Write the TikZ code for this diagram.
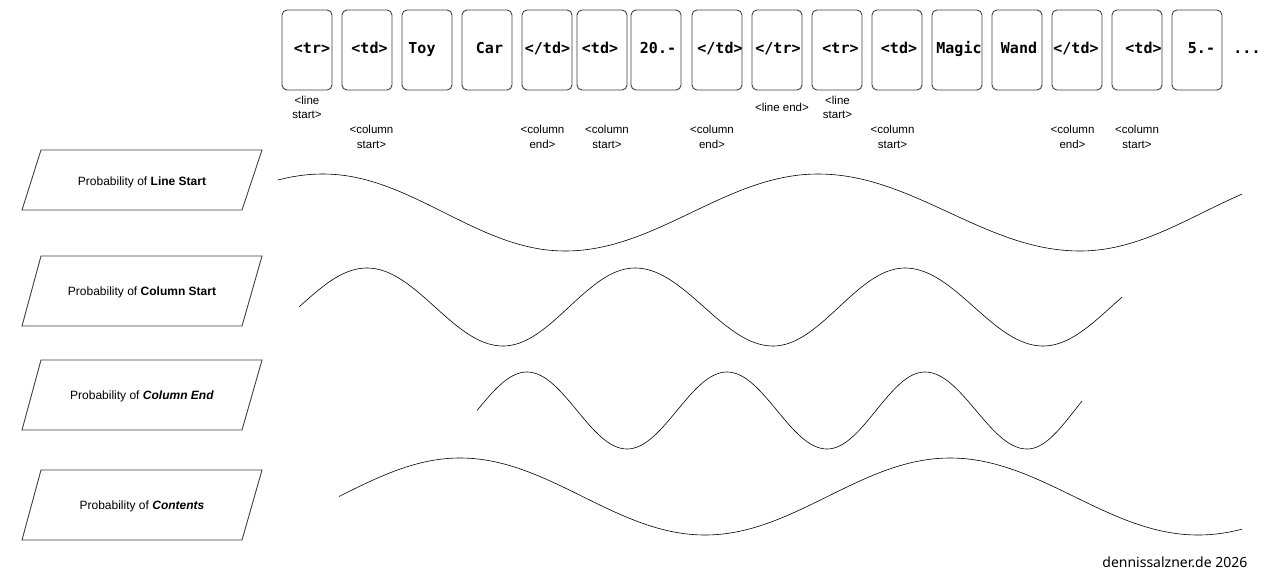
\documentclass[tikz,border=0pt]{standalone}
\usepackage{fontspec}
\setmainfont{Liberation Sans}
\newfontfamily\monob{DejaVu Sans Mono}
\newfontfamily\footfont{Noto Sans}
\newcommand\shtxt[2]{\hspace*{#1pt}#2\hspace*{-#1pt}}
\newcommand\seg[6]{plot[domain=#1:#2, samples=40, smooth] (\x,{#3+#4*cos((\x-#5)/#6*180)})}
\newcommand\segc[6]{-- plot[domain=#1:#2, samples=40, smooth] (\x,{#3+#4*cos((\x-#5)/#6*180)})}
\tikzset{
  tok/.style={draw=black!75, line width=0.9pt, rounded corners=5pt,
    minimum width=50pt, minimum height=80pt, inner sep=0pt,
    font=\monob\bfseries\fontsize{15}{18}\selectfont,
    text height=10.6pt, text depth=4pt},
  dotsnode/.style={inner sep=0pt, font=\monob\bfseries\fontsize{15}{18}\selectfont,
    text height=10.6pt, text depth=4pt},
  lbl/.style={font=\fontsize{11.5}{14.5}\selectfont, align=center, inner sep=0pt},
  para/.style={draw=black!75, line width=0.9pt},
  ptext/.style={font=\fontsize{12}{14}\selectfont, inner sep=0pt},
  wave/.style={draw=black, line width=0.6pt},
}
\begin{document}
\begin{tikzpicture}[x=1pt,y=-1pt]
\useasboundingbox[fill=white] (0,0) rectangle (1262,579);
% token boxes
\node[tok] (t1)  at (307,50)  {\shtxt{5}{<tr>}};
\node[tok] (t2)  at (367,50)  {\shtxt{2.5}{<td>}};
\node[tok] (t3)  at (427,50)  {\shtxt{-5}{Toy}};
\node[tok] (t4)  at (487,50)  {\shtxt{2.5}{Car}};
\node[tok] (t5)  at (547,50)  {\shtxt{0.5}{</td>}};
\node[tok] (t6)  at (602,50)  {\shtxt{-2}{<td>}};
\node[tok] (t7)  at (656,50)  {\shtxt{2}{20.-}};
\node[tok] (t8)  at (717,50)  {\shtxt{3}{</td>}};
\node[tok] (t9)  at (777,50)  {\shtxt{1}{</tr>}};
\node[tok] (t10) at (837,50)  {\shtxt{3.5}{<tr>}};
\node[tok] (t11) at (897,50)  {\shtxt{2}{<td>}};
\node[tok] (t12) at (957,50)  {\shtxt{2}{Magic}};
\node[tok] (t13) at (1017,50) {\shtxt{2}{Wand}};
\node[tok] (t14) at (1077,50) {\shtxt{-1}{</td>}};
\node[tok] (t15) at (1137,50) {\shtxt{6.5}{<td>}};
\node[tok] (t16) at (1197,50) {\shtxt{4.5}{5.-}};
\node[dotsnode] (dots) at (1247,50) {...};
% labels
\node[lbl] (l1)  at (307,107.5)   {<line\\start>};
\node[lbl] (l2)  at (371.5,137)   {<column\\start>};
\node[lbl] (l3)  at (542.5,137)   {<column\\end>};
\node[lbl] (l4)  at (607,137)     {<column\\start>};
\node[lbl] (l5)  at (712,137)     {<column\\end>};
\node[lbl] (l6)  at (782,107.5)   {<line end>};
\node[lbl] (l7)  at (837.5,107.5) {<line\\start>};
\node[lbl] (l8)  at (892.5,137)   {<column\\start>};
\node[lbl] (l9)  at (1072.5,137)  {<column\\end>};
\node[lbl] (l10) at (1137,137)    {<column\\start>};
% parallelograms
\draw[para] (41,150) -- (262,150) -- (242,210) -- (22,210) -- cycle;
\draw[para] (41,256) -- (262,256) -- (242,326) -- (22,326) -- cycle;
\draw[para] (41,360) -- (262,360) -- (242,430) -- (22,430) -- cycle;
\draw[para] (41,470) -- (262,470) -- (242,540) -- (22,540) -- cycle;
\node[ptext] (p1) at (142,182)   {Probability of \textbf{Line Start}};
\node[ptext] (p2) at (142,292.5) {Probability of \textbf{Column Start}};
\node[ptext] (p3) at (142,396.5) {Probability of \textbf{\textit{Column End}}};
\node[ptext] (p4) at (142,506.5) {Probability of \textbf{\textit{Contents}}};
% waves
\draw[wave] \seg{278}{323}{212.5}{-38.5}{323}{250}
  \segc{323}{565}{212.5}{-38.5}{323}{242}
  \segc{565}{818}{212.5}{38.5}{565}{253}
  \segc{818}{1080}{212.5}{-38.5}{818}{262}
  \segc{1080}{1242}{212.5}{38.5}{1080}{246};
\draw[wave] \seg{299}{367}{307}{-39}{367}{136}
  \segc{367}{503}{307}{-39}{367}{136}
  \segc{503}{635}{307}{39}{503}{132}
  \segc{635}{773}{307}{-39}{635}{138}
  \segc{773}{905}{307}{39}{773}{132}
  \segc{905}{1043}{307}{-39}{905}{138}
  \segc{1043}{1122}{307}{39}{1043}{136};
\draw[wave] \seg{477}{527}{410.5}{-38.5}{527}{100}
  \segc{527}{627}{410.5}{-38.5}{527}{100}
  \segc{627}{727}{410.5}{38.5}{627}{100}
  \segc{727}{827}{410.5}{-38.5}{727}{100}
  \segc{827}{925}{410.5}{38.5}{827}{98}
  \segc{925}{1027}{410.5}{-38.5}{925}{102}
  \segc{1027}{1082}{410.5}{38.5}{1027}{95};
\draw[wave] \seg{339}{460}{496.5}{-38.5}{460}{242}
  \segc{460}{705}{496.5}{-38.5}{460}{245}
  \segc{705}{950}{496.5}{38.5}{705}{245}
  \segc{950}{1198}{496.5}{-38.5}{950}{248}
  \segc{1198}{1242}{496.5}{38.5}{1198}{248};
% footer
\node[anchor=base east, inner sep=0pt, font=\footfont\fontsize{14}{16}\selectfont] (foot) at (1247.5,567.5) {dennissalzner.de 2026};
\end{tikzpicture}
\end{document}
